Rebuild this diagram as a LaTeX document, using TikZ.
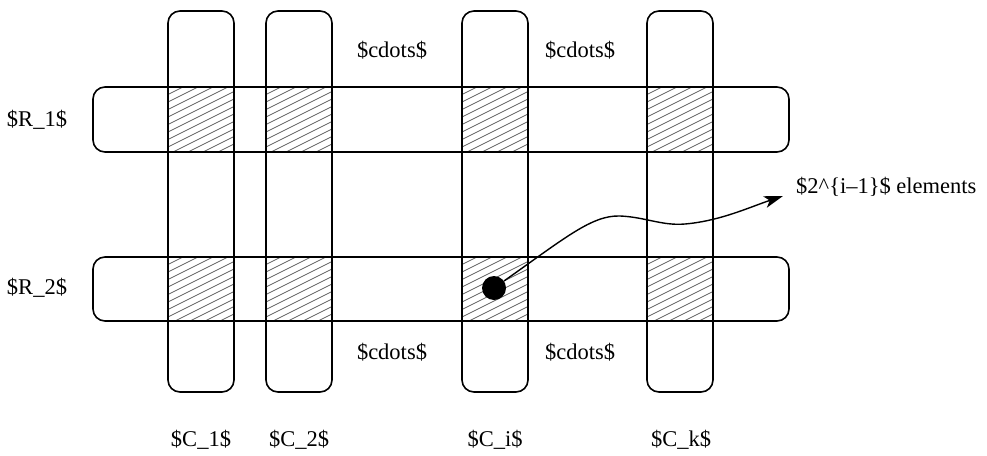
\documentclass[tikz,border=0pt]{standalone}
\usepackage{fontspec}
\setmainfont{Liberation Serif}
\usetikzlibrary{arrows.meta}
\begin{document}
\begin{tikzpicture}[x=1pt,y=-1pt,
  band/.style={draw=black,line width=1.6pt,rounded corners=12pt},
  hatchline/.style={draw=gray!75!black,line width=0.8pt},
  lbl/.style={inner sep=0pt,font=\fontsize{22.5}{26}\selectfont},
  dotnode/.style={circle,fill=black,minimum size=24pt,inner sep=0pt},
  conn/.style={draw=black,line width=1.4pt,-{Stealth[length=19pt,width=12pt,inset=5pt]}}]
\useasboundingbox (0,0) rectangle (987,455);
% hatching in intersections
\foreach \xa/\xb in {168/234,266/332,462/528,647/713}{
  \foreach \ya/\yb in {87/152,257/321}{
    \begin{scope}
      \clip (\xa,\ya) rectangle (\xb,\yb);
      \foreach \k in {0,...,20}{
        \draw[hatchline] (\xa,\ya+\k*7.5) -- ++(80,-40);
      }
    \end{scope}
  }
}
% columns
\draw[band] (168,11) rectangle (234,392);
\draw[band] (266,11) rectangle (332,392);
\draw[band] (462,11) rectangle (528,392);
\draw[band] (647,11) rectangle (713,392);
% rows
\draw[band] (93,87) rectangle (789,152);
\draw[band] (93,257) rectangle (789,321);
% labels
\node[lbl] (r1) at (37,120) {\$R\_1\$};
\node[lbl] (r2) at (37,288) {\$R\_2\$};
\node[lbl] (d1) at (392,50) {\$cdots\$};
\node[lbl] (d2) at (580,50) {\$cdots\$};
\node[lbl] (d3) at (392,352) {\$cdots\$};
\node[lbl] (d4) at (580,352) {\$cdots\$};
\node[lbl] (c1) at (201,440) {\$C\_1\$};
\node[lbl] (c2) at (299,440) {\$C\_2\$};
\node[lbl] (ci) at (495,440) {\$C\_i\$};
\node[lbl] (ck) at (681,440) {\$C\_k\$};
\node[lbl,anchor=west] (el) at (796,187) {\$2\textasciicircum\{i–1\}\$ elements};
% dot and arrow
\node[dotnode] (dot) at (494,288) {};
\coordinate (tip) at (783,196);
\draw[conn] (dot) .. controls (565,238) and (592,215) .. (620,216)
  .. controls (645,217) and (662,226) .. (685,224)
  .. controls (720,221) and (750,207) .. (tip);
\end{tikzpicture}
\end{document}
